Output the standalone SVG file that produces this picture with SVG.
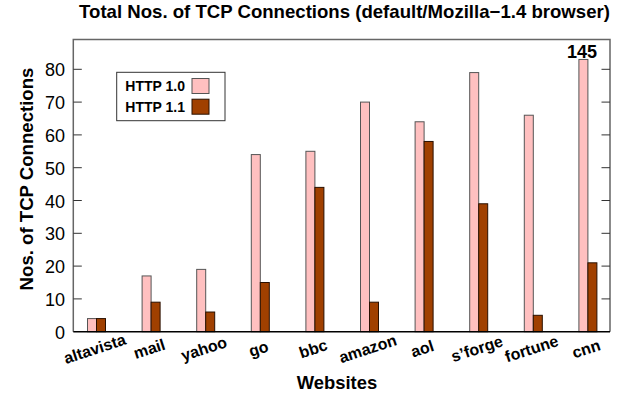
<svg xmlns="http://www.w3.org/2000/svg" width="622" height="397" viewBox="0 0 622 397">
<style>
text{font-family:"Liberation Sans",Arial,sans-serif;fill:#000}
.b{font-weight:bold}
.tk{font-size:18px;text-anchor:end}
.xl{font-size:16px;font-weight:bold;text-anchor:middle}
.p{fill:#ffc0c0;stroke:#555;stroke-width:1}
.r{fill:#a04000;stroke:#2a1000;stroke-width:1}
.tick{stroke:#333;stroke-width:1}
</style>
<rect width="622" height="397" fill="#fff"/>
<text class="b" x="344.5" y="18" font-size="18.6" text-anchor="middle">Total Nos. of TCP Connections (default/Mozilla−1.4 browser)</text>
<g id="frame">
<path d="M73.3 331.7V39.5H610V331.7" fill="none" stroke="#666" stroke-width="1.5"/>
<g class="tick">
<path d="M73.3 298.9h8.5M73.3 266.1h8.5M73.3 233.3h8.5M73.3 200.5h8.5M73.3 167.7h8.5M73.3 134.9h8.5M73.3 102.1h8.5M73.3 69.3h8.5"/>
<path d="M610 298.9h-8.5M610 266.1h-8.5M610 233.3h-8.5M610 200.5h-8.5M610 167.7h-8.5M610 134.9h-8.5M610 102.1h-8.5M610 69.3h-8.5"/>
</g>
</g>
<g id="yticks">
<text class="tk" x="65" y="338.7">0</text>
<text class="tk" x="65" y="305.9">10</text>
<text class="tk" x="65" y="273.1">20</text>
<text class="tk" x="65" y="240.3">30</text>
<text class="tk" x="65" y="207.5">40</text>
<text class="tk" x="65" y="174.7">50</text>
<text class="tk" x="65" y="141.9">60</text>
<text class="tk" x="65" y="109.1">70</text>
<text class="tk" x="65" y="76.3">80</text>
</g>
<g id="bars">
<g id="altavista"><rect class="p" x="87.5" y="318.58" width="9" height="13.12"/><rect class="r" x="96.5" y="318.58" width="9" height="13.12"/></g>
<g id="mail"><rect class="p" x="142.1" y="275.94" width="9" height="55.76"/><rect class="r" x="151.1" y="302.18" width="9" height="29.52"/></g>
<g id="yahoo"><rect class="p" x="196.7" y="269.38" width="9" height="62.32"/><rect class="r" x="205.7" y="312.02" width="9" height="19.68"/></g>
<g id="go"><rect class="p" x="251.3" y="154.58" width="9" height="177.12"/><rect class="r" x="260.3" y="282.5" width="9" height="49.2"/></g>
<g id="bbc"><rect class="p" x="305.9" y="151.3" width="9" height="180.4"/><rect class="r" x="314.9" y="187.38" width="9" height="144.32"/></g>
<g id="amazon"><rect class="p" x="360.5" y="102.1" width="9" height="229.6"/><rect class="r" x="369.5" y="302.18" width="9" height="29.52"/></g>
<g id="aol"><rect class="p" x="415.1" y="121.78" width="9" height="209.92"/><rect class="r" x="424.1" y="141.46" width="9" height="190.24"/></g>
<g id="sforge"><rect class="p" x="469.7" y="72.58" width="9" height="259.12"/><rect class="r" x="478.7" y="203.78" width="9" height="127.92"/></g>
<g id="fortune"><rect class="p" x="524.3" y="115.22" width="9" height="216.48"/><rect class="r" x="533.3" y="315.3" width="9" height="16.4"/></g>
<g id="cnn"><rect class="p" x="578.9" y="59.46" width="9" height="272.24"/><rect class="r" x="587.9" y="262.82" width="9" height="68.88"/></g>
</g>
<line x1="73.3" y1="331.7" x2="610" y2="331.7" stroke="#000" stroke-width="1.5"/>
<text class="b" x="582" y="58" font-size="18" text-anchor="middle">145</text>
<g id="xlabels">
<text class="xl" x="96.5" y="354" transform="rotate(-18 96.5 354)">altavista</text>
<text class="xl" x="151.1" y="354" transform="rotate(-18 151.1 354)">mail</text>
<text class="xl" x="205.7" y="354" transform="rotate(-18 205.7 354)">yahoo</text>
<text class="xl" x="260.3" y="354" transform="rotate(-18 260.3 354)">go</text>
<text class="xl" x="314.9" y="354" transform="rotate(-18 314.9 354)">bbc</text>
<text class="xl" x="369.5" y="354" transform="rotate(-18 369.5 354)">amazon</text>
<text class="xl" x="424.1" y="354" transform="rotate(-18 424.1 354)">aol</text>
<text class="xl" x="478.7" y="354" transform="rotate(-18 478.7 354)">s’forge</text>
<text class="xl" x="533.3" y="354" transform="rotate(-18 533.3 354)">fortune</text>
<text class="xl" x="587.9" y="354" transform="rotate(-18 587.9 354)">cnn</text>
</g>
<text class="b" x="337" y="389" font-size="18.4" text-anchor="middle">Websites</text>
<text class="b" x="0" y="0" font-size="18.6" text-anchor="middle" transform="translate(33 179) rotate(-90)">Nos. of TCP Connections</text>
<g id="legend">
<rect x="116.7" y="72.3" width="108.3" height="48.4" fill="#fff" stroke="#333" stroke-width="1"/>
<text class="b" x="185" y="91" font-size="14" text-anchor="end">HTTP 1.0</text>
<text class="b" x="185" y="111.7" font-size="14" text-anchor="end">HTTP 1.1</text>
<rect class="p" x="192" y="78.5" width="17" height="15"/>
<rect class="r" x="192" y="99.2" width="17" height="15"/>
</g>
</svg>
